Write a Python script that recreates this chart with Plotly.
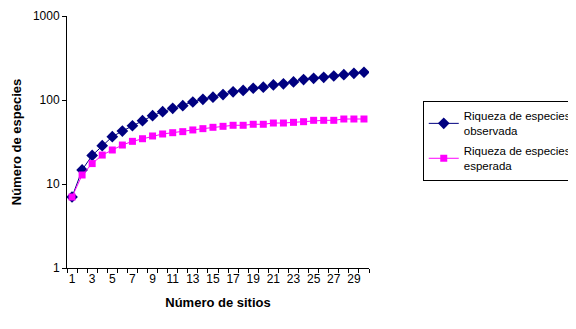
import plotly.graph_objects as go

sitios = list(range(1, 31))
observada = [7.0, 14.7, 21.9, 28.6, 36.6, 42.7, 49.4, 56.7, 65.0, 72.6,
             79.6, 85.5, 94.7, 102, 108, 116, 125, 130, 138, 142,
             151, 156, 164, 175, 181, 186, 193, 200, 208, 214]
esperada = [7.0, 12.8, 17.5, 22.1, 25.4, 29.1, 32.2, 34.6, 37.3, 39.4,
            40.8, 42.0, 44.0, 45.6, 47.3, 48.6, 50.0, 50.0, 51.4, 51.4,
            53.2, 53.2, 54.2, 55.2, 57.3, 57.3, 57.3, 59.4, 59.4, 59.4]
xlabels = [str(v) for v in range(1, 31, 2)]
yticks = [1, 10, 100, 1000]

font = "Liberation Sans, Arial, sans-serif"

fig = go.Figure()
fig.add_trace(go.Scatter(
    x=sitios, y=observada, mode="lines+markers",
    name="Riqueza de especies<br>observada", legendgroup="a",
    line=dict(color="#000080", width=1),
    marker=dict(symbol="diamond", size=9, color="#000080"),
))
fig.add_trace(go.Scatter(
    x=sitios, y=esperada, mode="lines+markers",
    name="Riqueza de especies<br>esperada", legendgroup="b",
    line=dict(color="#FF00FF", width=1),
    marker=dict(symbol="square", size=7, color="#FF00FF"),
))

# page body has an 8px default margin, so the figure is 8px smaller
fig.update_layout(
    width=568, height=321,
    margin=dict(l=59, r=207, t=8, b=61, autoexpand=False),
    plot_bgcolor="white", paper_bgcolor="white",
    font=dict(family=font, size=12, color="black"),
    showlegend=True,
    legend=dict(
        x=1.178, y=0.663, xanchor="left", yanchor="top",
        bordercolor="black", borderwidth=1, bgcolor="white",
        font=dict(family=font, size=11.5, color="black"),
        tracegroupgap=2, itemwidth=30,
    ),
    xaxis=dict(
        range=[0.5, 30.5],
        tickmode="array",
        tickvals=[int(v) for v in xlabels],
        ticktext=xlabels,
        ticks="outside", ticklen=0,
        showgrid=False, zeroline=False, automargin=False,
        showline=True, linecolor="black", linewidth=1,
        minor=dict(tickmode="array", tickvals=[v + 0.5 for v in range(0, 31)],
                   ticks="outside", ticklen=4, tickcolor="black", showgrid=False),
        title=dict(text="<b>Número de sitios</b>", standoff=12,
                   font=dict(family=font, size=13)),
        tickfont=dict(family=font, size=12),
    ),
    yaxis=dict(
        type="log", range=[0, 3],
        tickmode="array", tickvals=yticks, ticktext=[str(v) for v in yticks],
        ticks="outside", ticklen=4, tickcolor="black",
        showgrid=False, zeroline=False, automargin=False,
        showline=True, linecolor="black", linewidth=1,
        title=dict(text="<b>Número de especies</b>", standoff=8,
                   font=dict(family=font, size=13)),
        tickfont=dict(family=font, size=12),
    ),
)

fig.write_html("out.html")
